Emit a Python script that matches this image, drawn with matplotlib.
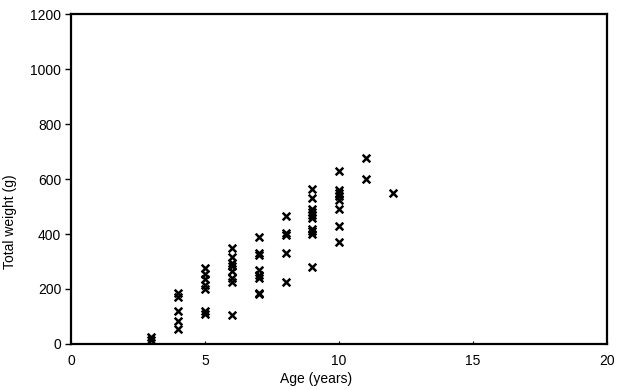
import matplotlib.pyplot as plt

plt.rcParams["font.family"] = ["Liberation Sans", "DejaVu Sans"]

# data (age in years, total weight in g)
age_3 = [15, 25]
age_4 = [185, 172, 120, 85, 55]
age_5 = [278, 255, 238, 215, 200, 120, 108]
age_6 = [350, 315, 295, 285, 265, 240, 225, 105]
age_7 = [390, 332, 325, 270, 250, 240, 187, 180]
age_8 = [465, 405, 395, 332, 225]
age_9 = [565, 530, 490, 480, 470, 460, 420, 410, 400, 280]
age_10 = [630, 560, 550, 540, 525, 490, 430, 370]
age_11 = [675, 600]
age_12 = [550]

groups = {3: age_3, 4: age_4, 5: age_5, 6: age_6, 7: age_7, 8: age_8,
          9: age_9, 10: age_10, 11: age_11, 12: age_12}
ages = [a for a, ws in groups.items() for _ in ws]
weights = [w for ws in groups.values() for w in ws]

fig = plt.figure(figsize=(6.25, 3.9), dpi=100)
ax = fig.add_axes([0.1136, 0.118, 0.858, 0.846])

ax.scatter(ages, weights, marker="x", s=30, color="black", linewidths=1.8, clip_on=False)

ax.set_xlim(0, 20)
ax.set_ylim(0, 1200)
ax.set_xticks([0, 5, 10, 15, 20])
ax.set_yticks(range(0, 1201, 200))

for sp in ax.spines.values():
    sp.set_linewidth(1.6)

ax.tick_params(axis="y", direction="out", length=4, width=1, labelsize=10, pad=3)
ax.tick_params(axis="x", direction="in", length=2, width=0.8, labelsize=10, pad=7)

ax.set_xlabel("Age (years)", fontsize=10, labelpad=2)
ax.xaxis.set_label_coords(0.457, -0.085)
ax.set_ylabel("Total weight (g)", fontsize=10)
ax.yaxis.set_label_coords(-0.1, 0.37)

plt.savefig("out.png", dpi=100)
